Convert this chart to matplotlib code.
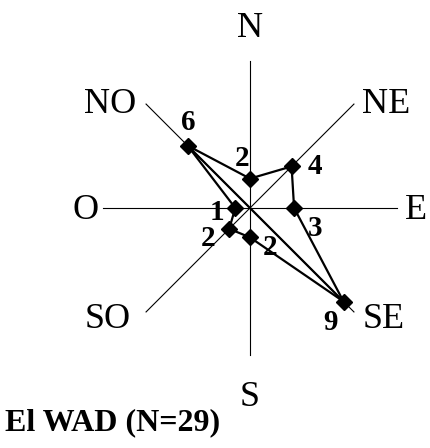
import numpy as np
import matplotlib
matplotlib.use("Agg")
import matplotlib.pyplot as plt

# compass directions (clockwise from north) and counts
directions = ["N", "NE", "E", "SE", "S", "SO", "O", "NO"]
counts = [2, 4, 3, 9, 2, 2, 1, 6]
title = "El WAD (N=29)"

axis_len = 10
px = 14.7  # pixels per unit

fig = plt.figure(figsize=(4.30, 4.48), dpi=100)
ax = fig.add_axes([0, 0, 1, 1])
ax.set_xlim(-250 / px, 180 / px)
ax.set_ylim(-240 / px, 208 / px)
ax.set_aspect("equal")
ax.axis("off")

serif = ["Liberation Serif", "DejaVu Serif"]

ang = np.deg2rad(90 - 45 * np.arange(len(directions)))
ux, uy = np.cos(ang), np.sin(ang)

# axis lines
for i in range(len(directions)):
    ax.plot([0, axis_len * ux[i]], [0, axis_len * uy[i]], color="black", lw=0.8)

# direction labels (offsets in px from center)
lab_pos = {"N": (0, 180), "NE": (136, 104), "E": (166, -2), "SE": (134, -111),
           "S": (0, -189), "SO": (-142, -111), "O": (-164, -2), "NO": (-140, 104)}
for d in directions:
    x, y = lab_pos[d]
    ax.text(x / px, y / px, d, fontsize=26, family=serif, ha="center", va="center")

vals = np.array(counts, dtype=float)
xs, ys = vals * ux, vals * uy

# polygon plus NO-SE connector
ax.plot(np.append(xs, xs[0]), np.append(ys, ys[0]), color="black", lw=1.6, zorder=3)
i_no, i_se = directions.index("NO"), directions.index("SE")
ax.plot([xs[i_no], xs[i_se]], [ys[i_no], ys[i_se]], color="black", lw=1.6, zorder=3)
ax.plot(xs, ys, "D", color="black", ms=8, zorder=4)

# value labels (offsets in px from center)
val_pos = {"N": (-8, 50), "NE": (65, 42), "E": (65, -20), "SE": (80, -115),
           "S": (20, -39), "SO": (-42, -30), "O": (-33, -4), "NO": (-62, 86)}
for d, v in zip(directions, counts):
    x, y = val_pos[d]
    ax.text(x / px, y / px, str(v), fontsize=21, fontweight="bold", family=serif,
            ha="center", va="center")

ax.text(-245 / px, -222 / px, title, fontsize=23, fontweight="bold", family=serif,
        ha="left", va="baseline")

fig.savefig("out.png", dpi=100)
